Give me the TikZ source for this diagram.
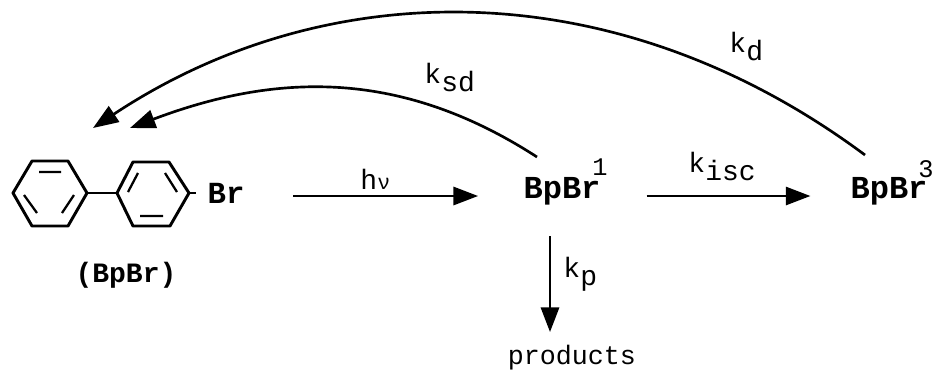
\documentclass[tikz,border=0pt]{standalone}
\usepackage{fontspec}
\setmonofont{Liberation Mono}
\usetikzlibrary{arrows.meta}
\begin{document}
\begin{tikzpicture}[x=0.75pt,y=-0.75pt,>={Triangle[length=18.5pt,width=13.5pt]},line width=2.2pt,
 bond/.style={line width=2.2pt,line join=round},
 dbl/.style={line width=1.7pt},
 species/.style={inner sep=0pt,text height=14pt,text depth=11pt,font=\fontsize{24}{26}\ttfamily\bfseries},
 rate/.style={inner sep=0pt,font=\fontsize{21}{24}\ttfamily},
 curved/.style={->,line width=2pt,>={Triangle[length=19pt,width=14pt]}}]
\useasboundingbox (0,0) rectangle (934,376);
\draw[bond] (13,193)--(32,161)--(68,161)--(87,193)--(68,226)--(32,226)--cycle;
\draw[bond] (117,193)--(133,162)--(169,162)--(189,193)--(170,226)--(133,226)--cycle;
\draw[bond] (87,193)--(117,193);
\draw[dbl] (39,172)--(61,172) (24,195)--(37,213) (74,195)--(62,213);
\draw[dbl] (138,173)--(128,192) (165,173)--(177,192) (140,216)--(163,216);
\node[species,text height=18pt,text depth=3pt,font=\fontsize{23}{26}\ttfamily\bfseries] (br) at (226,193) {Br};
\draw[bond,shorten >=7.5pt] (189,193)--(br.west);
\node[inner sep=0pt,font=\fontsize{21}{24}\ttfamily\bfseries] (name) at (126,275) {(BpBr)};
\node[species] (singlet) at (562,196) {BpBr};
\node[species] (triplet) at (889,196) {BpBr};
\node[rate,font=\fontsize{19}{24}\ttfamily] (one) at (600,167) {1};
\node[rate,font=\fontsize{19}{24}\ttfamily] (three) at (926,169) {3};
\node[inner sep=0pt,font=\fontsize{20}{24}\ttfamily] (products) at (572,358) {products};
\draw[->,shorten <=35.5pt,shorten >=33pt] (br.east |- singlet.west) -- (singlet.west);
\draw[->,shorten <=33.5pt,shorten >=29pt] (singlet.east) -- (triplet.west);
\draw[->,shorten <=16.7pt,shorten >=9pt] ([xshift=-9pt]singlet.south) -- ([xshift=-9pt]singlet.south |- products.north);
\node[rate,anchor=base west] (hv) at (359,189) {h{\fontsize{16}{20}\selectfont ν}};
\node[rate,anchor=base west] (kisc) at (687,172) {k\raisebox{-6.5pt}{isc}};
\node[rate,anchor=base west] (kp) at (562,277) {k\raisebox{-6.5pt}{p}};
\node[rate,anchor=base west] (ksd) at (423,83) {k\raisebox{-6.5pt}{sd}};
\node[rate,anchor=base west] (kd) at (728,52) {k\raisebox{-6.5pt}{d}};
\coordinate (sdstart) at (537,157);
\coordinate (sdtip) at (130,128);
\coordinate (dstart) at (865,155);
\coordinate (dtip) at (93,128);
\draw[curved] (sdstart) .. controls (398,67) and (273,74) .. (sdtip);
\draw[curved] (dstart) .. controls (612,-33) and (322,-24) .. (dtip);
\end{tikzpicture}
\end{document}
